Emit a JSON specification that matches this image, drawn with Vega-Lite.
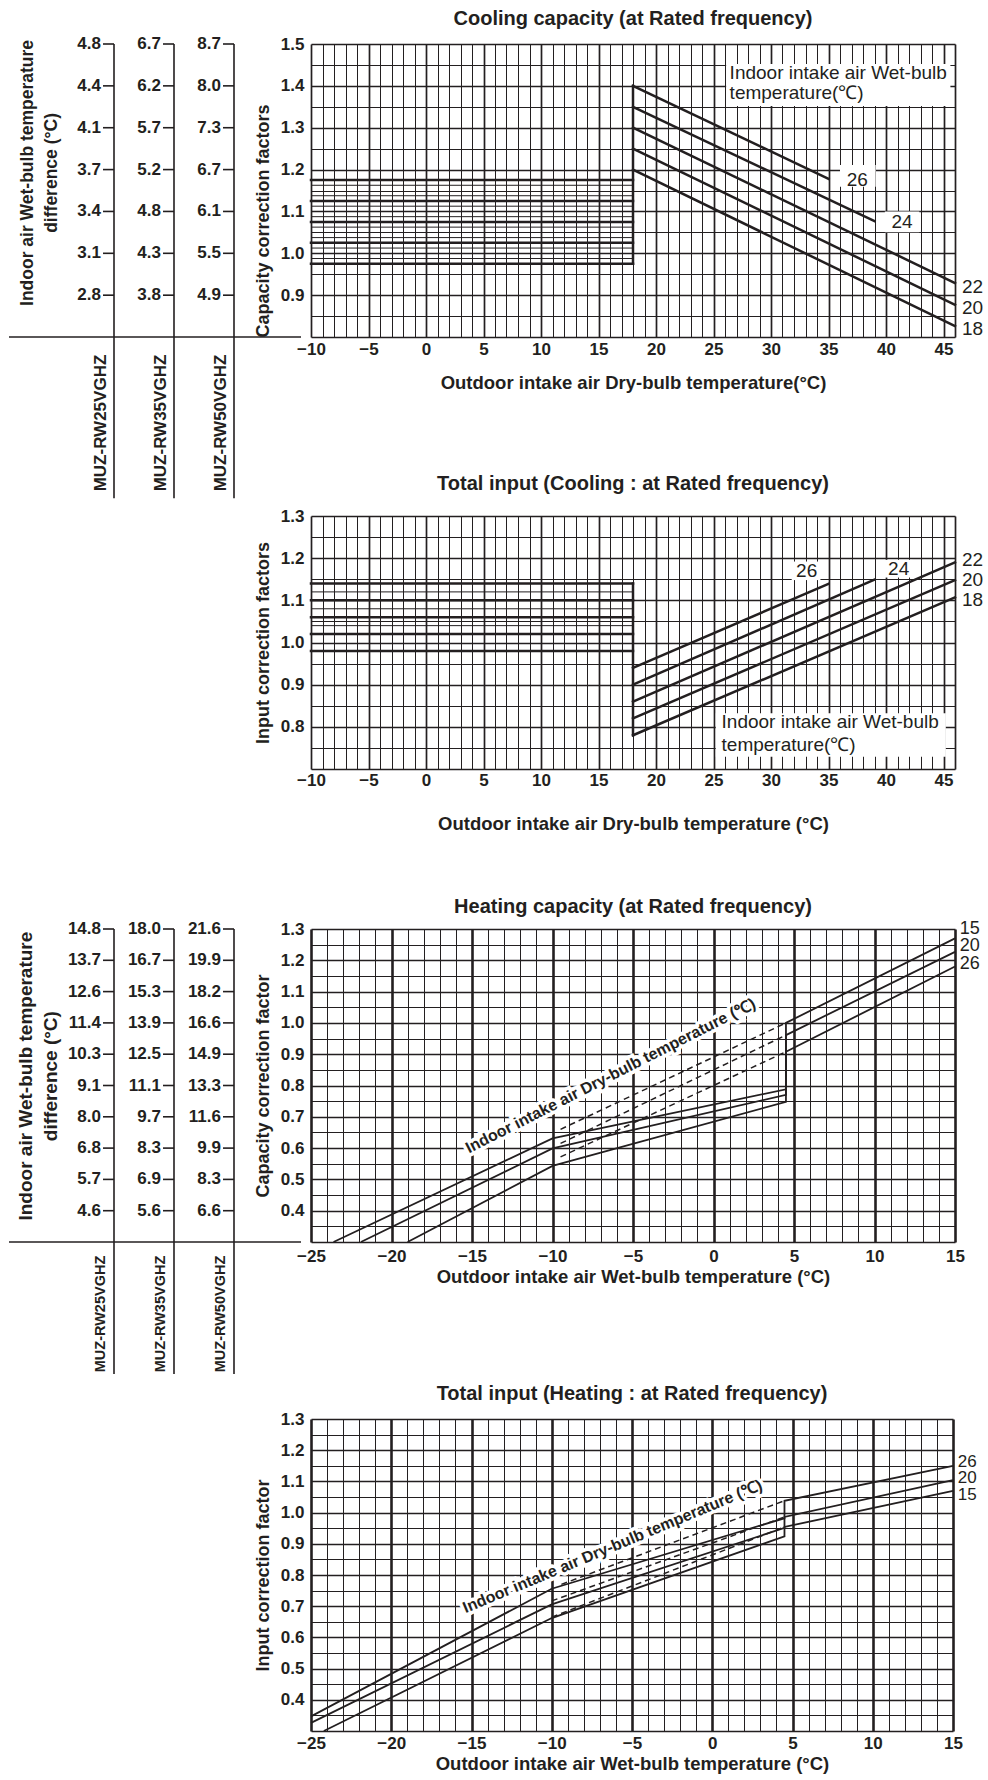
{
  "$schema": "https://vega.github.io/schema/vega-lite/v6.json",
  "background": "white",
  "padding": {"left": 8, "top": 9, "right": 5, "bottom": 2},
  "columns": 2,
  "align": "each",
  "bounds": "flush",
  "spacing": {"row": 160, "column": 10},
  "config": {
    "view": {"stroke": null},
    "font": "Liberation Sans",
    "title": {"font": "Liberation Sans", "fontSize": 20, "fontWeight": "bold", "color": "#231f20", "anchor": "middle"},
    "axis": {"labelFont": "Liberation Sans", "titleFont": "Liberation Sans", "labelColor": "#231f20", "titleColor": "#231f20", "labelFontWeight": "bold", "titleFontWeight": "bold", "labelFontSize": 17, "titleFontSize": 18.5, "ticks": false, "domain": false, "grid": true, "gridColor": "#231f20", "gridOpacity": 1, "labelOverlap": false, "labelFlush": false},
    "axisY": {"titleFontSize": 18},
    "text": {"font": "Liberation Sans", "color": "#231f20"}
  },
  "datasets": {
    "models": [{"c": 1, "t": "MUZ-RW25VGHZ"}, {"c": 2, "t": "MUZ-RW35VGHZ"}, {"c": 3, "t": "MUZ-RW50VGHZ"}],
    "lc": [
      {"c": 1, "y": 1.5, "t": "4.8"}, {"c": 1, "y": 1.4, "t": "4.4"}, {"c": 1, "y": 1.3, "t": "4.1"}, {"c": 1, "y": 1.2, "t": "3.7"}, {"c": 1, "y": 1.1, "t": "3.4"}, {"c": 1, "y": 1.0, "t": "3.1"}, {"c": 1, "y": 0.9, "t": "2.8"},
      {"c": 2, "y": 1.5, "t": "6.7"}, {"c": 2, "y": 1.4, "t": "6.2"}, {"c": 2, "y": 1.3, "t": "5.7"}, {"c": 2, "y": 1.2, "t": "5.2"}, {"c": 2, "y": 1.1, "t": "4.8"}, {"c": 2, "y": 1.0, "t": "4.3"}, {"c": 2, "y": 0.9, "t": "3.8"},
      {"c": 3, "y": 1.5, "t": "8.7"}, {"c": 3, "y": 1.4, "t": "8.0"}, {"c": 3, "y": 1.3, "t": "7.3"}, {"c": 3, "y": 1.2, "t": "6.7"}, {"c": 3, "y": 1.1, "t": "6.1"}, {"c": 3, "y": 1.0, "t": "5.5"}, {"c": 3, "y": 0.9, "t": "4.9"}
    ],
    "lh": [
      {"c": 1, "y": 1.3, "t": "14.8"}, {"c": 1, "y": 1.2, "t": "13.7"}, {"c": 1, "y": 1.1, "t": "12.6"}, {"c": 1, "y": 1.0, "t": "11.4"}, {"c": 1, "y": 0.9, "t": "10.3"}, {"c": 1, "y": 0.8, "t": "9.1"}, {"c": 1, "y": 0.7, "t": "8.0"}, {"c": 1, "y": 0.6, "t": "6.8"}, {"c": 1, "y": 0.5, "t": "5.7"}, {"c": 1, "y": 0.4, "t": "4.6"},
      {"c": 2, "y": 1.3, "t": "18.0"}, {"c": 2, "y": 1.2, "t": "16.7"}, {"c": 2, "y": 1.1, "t": "15.3"}, {"c": 2, "y": 1.0, "t": "13.9"}, {"c": 2, "y": 0.9, "t": "12.5"}, {"c": 2, "y": 0.8, "t": "11.1"}, {"c": 2, "y": 0.7, "t": "9.7"}, {"c": 2, "y": 0.6, "t": "8.3"}, {"c": 2, "y": 0.5, "t": "6.9"}, {"c": 2, "y": 0.4, "t": "5.6"},
      {"c": 3, "y": 1.3, "t": "21.6"}, {"c": 3, "y": 1.2, "t": "19.9"}, {"c": 3, "y": 1.1, "t": "18.2"}, {"c": 3, "y": 1.0, "t": "16.6"}, {"c": 3, "y": 0.9, "t": "14.9"}, {"c": 3, "y": 0.8, "t": "13.3"}, {"c": 3, "y": 0.7, "t": "11.6"}, {"c": 3, "y": 0.6, "t": "9.9"}, {"c": 3, "y": 0.5, "t": "8.3"}, {"c": 3, "y": 0.4, "t": "6.6"}
    ]
  },
  "concat": [
    {
      "width": 292, "height": 312,
      "layer": [
        {"data": {"name": "models"}, "mark": {"type": "rule", "color": "#231f20", "strokeWidth": 1.6},
         "encoding": {"x": {"field": "c", "type": "quantitative", "scale": {"domain": [-0.75, 4.1167], "nice": false, "zero": false}, "axis": null},
                      "y": {"datum": 1.5, "type": "quantitative", "scale": {"domain": [0.7547, 1.5], "nice": false, "zero": false}, "axis": null},
                      "y2": {"datum": 0.415}}},
        {"data": {"values": [{}]}, "mark": {"type": "rule", "color": "#231f20", "strokeWidth": 1.6},
         "encoding": {"x": {"datum": -0.75, "type": "quantitative", "scale": {"domain": [-0.75, 4.1167], "nice": false, "zero": false}, "axis": null},
                      "x2": {"datum": 4.1167},
                      "y": {"datum": 0.8, "type": "quantitative", "scale": {"domain": [0.7547, 1.5], "nice": false, "zero": false}, "axis": null}}},
        {"data": {"name": "lc"}, "mark": {"type": "rule", "color": "#231f20", "strokeWidth": 1.6, "xOffset": -11},
         "encoding": {"x": {"field": "c", "type": "quantitative", "scale": {"domain": [-0.75, 4.1167], "nice": false, "zero": false}, "axis": null},
                      "x2": {"field": "c"},
                      "y": {"field": "y", "type": "quantitative", "scale": {"domain": [0.7547, 1.5], "nice": false, "zero": false}, "axis": null}}},
        {"data": {"name": "lc"}, "mark": {"type": "text", "align": "right", "xOffset": -13, "fontSize": 17, "fontWeight": "bold"},
         "encoding": {"x": {"field": "c", "type": "quantitative", "scale": {"domain": [-0.75, 4.1167], "nice": false, "zero": false}, "axis": null},
                      "y": {"field": "y", "type": "quantitative", "scale": {"domain": [0.7547, 1.5], "nice": false, "zero": false}, "axis": null},
                      "text": {"field": "t"}}},
        {"data": {"name": "models"}, "mark": {"type": "text", "angle": 270, "xOffset": -13, "fontSize": 17, "fontWeight": "bold"},
         "encoding": {"x": {"field": "c", "type": "quantitative", "scale": {"domain": [-0.75, 4.1167], "nice": false, "zero": false}, "axis": null},
                      "y": {"datum": 0.5946, "type": "quantitative", "scale": {"domain": [0.7547, 1.5], "nice": false, "zero": false}, "axis": null},
                      "text": {"field": "t"}}},
        {"data": {"values": [{}]}, "mark": {"type": "text", "angle": 270, "fontSize": 17.5, "fontWeight": "bold", "lineHeight": 24, "text": ["Indoor air Wet-bulb temperature", "difference (°C)"]},
         "encoding": {"x": {"datum": -0.434, "type": "quantitative", "scale": {"domain": [-0.75, 4.1167], "nice": false, "zero": false}, "axis": null},
                      "y": {"datum": 1.192, "type": "quantitative", "scale": {"domain": [0.7547, 1.5], "nice": false, "zero": false}, "axis": null}}}
      ]
    },
    {
      "width": 644, "height": 293,
      "title": {"text": "Cooling capacity (at Rated frequency)", "offset": 6},
      "encoding": {
        "x": {"field": "x", "type": "quantitative", "scale": {"domain": [-10, 46], "nice": false, "zero": false},
              "axis": {"values": [-10,-9,-8,-7,-6,-5,-4,-3,-2,-1,0,1,2,3,4,5,6,7,8,9,10,11,12,13,14,15,16,17,18,19,20,21,22,23,24,25,26,27,28,29,30,31,32,33,34,35,36,37,38,39,40,41,42,43,44,45,46],
                       "labelExpr": "datum.value % 5 === 0 ? datum.label : ''",
                       "gridWidth": {"condition": {"test": "datum.value % 5 === 0 || datum.value === 46", "value": 1.7}, "value": 1},
                       "labelPadding": 4, "title": "Outdoor intake air Dry-bulb temperature(°C)", "titlePadding": 16}},
        "y": {"field": "y", "type": "quantitative", "scale": {"domain": [0.8, 1.5], "nice": false, "zero": false},
              "axis": {"values": [0.8,0.85,0.9,0.95,1.0,1.05,1.1,1.15,1.2,1.25,1.3,1.35,1.4,1.45,1.5], "format": ".1f",
                       "labelExpr": "abs(datum.value*10-round(datum.value*10))<0.01 && datum.value>0.81 ? datum.label : ''",
                       "gridWidth": {"condition": {"test": "abs(datum.value*10-round(datum.value*10))<0.01", "value": 1.6}, "value": 1},
                       "labelPadding": 7, "title": "Capacity correction factors", "titlePadding": 8, "titleAnchor": "start"}}
      },
      "layer": [
        {"data": {"values": [{"x": 26.1, "x2": 45.6, "y": 1.352, "y2": 1.452}, {"x": 36.0, "x2": 39.1, "y": 1.159, "y2": 1.211}, {"x": 39.9, "x2": 42.9, "y": 1.05, "y2": 1.1}]},
         "mark": {"type": "rect", "fill": "white"}, "encoding": {"x2": {"field": "x2"}, "y2": {"field": "y2"}}},
        {"data": {"values": [{"x": -10, "x2": 18, "y": 0.9875}, {"x": -10, "x2": 18, "y": 1.0125}, {"x": -10, "x2": 18, "y": 1.0375}, {"x": -10, "x2": 18, "y": 1.0625}, {"x": -10, "x2": 18, "y": 1.0875}, {"x": -10, "x2": 18, "y": 1.1125}, {"x": -10, "x2": 18, "y": 1.1375}, {"x": -10, "x2": 18, "y": 1.1625}]},
         "mark": {"type": "rule", "color": "#231f20", "strokeWidth": 1}, "encoding": {"x2": {"field": "x2"}}},
        {"data": {"values": [
          {"s": "h1", "i": 0, "x": -10, "y": 1.175}, {"s": "h1", "i": 1, "x": 18, "y": 1.175},
          {"s": "h2", "i": 0, "x": -10, "y": 1.125}, {"s": "h2", "i": 1, "x": 18, "y": 1.125},
          {"s": "h3", "i": 0, "x": -10, "y": 1.075}, {"s": "h3", "i": 1, "x": 18, "y": 1.075},
          {"s": "h4", "i": 0, "x": -10, "y": 1.025}, {"s": "h4", "i": 1, "x": 18, "y": 1.025},
          {"s": "h5", "i": 0, "x": -10, "y": 0.975}, {"s": "h5", "i": 1, "x": 18, "y": 0.975},
          {"s": "v", "i": 0, "x": 18, "y": 0.975}, {"s": "v", "i": 1, "x": 18, "y": 1.4},
          {"s": "26", "i": 0, "x": 18, "y": 1.4}, {"s": "26", "i": 1, "x": 35, "y": 1.178},
          {"s": "24", "i": 0, "x": 18, "y": 1.35}, {"s": "24", "i": 1, "x": 39, "y": 1.077},
          {"s": "22", "i": 0, "x": 18, "y": 1.3}, {"s": "22", "i": 1, "x": 46, "y": 0.929},
          {"s": "20", "i": 0, "x": 18, "y": 1.25}, {"s": "20", "i": 1, "x": 46, "y": 0.877},
          {"s": "18", "i": 0, "x": 18, "y": 1.2}, {"s": "18", "i": 1, "x": 46, "y": 0.826}]},
         "mark": {"type": "line", "color": "#231f20", "strokeWidth": 2.5, "strokeCap": "square"},
         "encoding": {"detail": {"field": "s"}, "order": {"field": "i"}}},
        {"data": {"values": [{"x": 26.4, "y": 1.43, "t": "Indoor intake air Wet-bulb"}, {"x": 26.4, "y": 1.382, "t": "temperature(℃)"}, {"x": 46.6, "y": 0.92, "t": "22"}, {"x": 46.6, "y": 0.87, "t": "20"}, {"x": 46.6, "y": 0.82, "t": "18"}]},
         "mark": {"type": "text", "align": "left", "fontSize": 19}, "encoding": {"text": {"field": "t"}}},
        {"data": {"values": [{"x": 37.5, "y": 1.176, "t": "26"}, {"x": 41.4, "y": 1.074, "t": "24"}]},
         "mark": {"type": "text", "align": "center", "fontSize": 19}, "encoding": {"text": {"field": "t"}}}
      ]
    },
    {"width": 292, "height": 10, "data": {"values": [{}]}, "mark": {"type": "text", "text": ""}},
    {
      "width": 644, "height": 253,
      "title": {"text": "Total input (Cooling : at Rated frequency)", "offset": 13},
      "encoding": {
        "x": {"field": "x", "type": "quantitative", "scale": {"domain": [-10, 46], "nice": false, "zero": false},
              "axis": {"values": [-10,-9,-8,-7,-6,-5,-4,-3,-2,-1,0,1,2,3,4,5,6,7,8,9,10,11,12,13,14,15,16,17,18,19,20,21,22,23,24,25,26,27,28,29,30,31,32,33,34,35,36,37,38,39,40,41,42,43,44,45,46],
                       "labelExpr": "datum.value % 5 === 0 ? datum.label : ''",
                       "gridWidth": {"condition": {"test": "datum.value % 5 === 0 || datum.value === 46", "value": 1.7}, "value": 1},
                       "labelPadding": 3, "title": "Outdoor intake air Dry-bulb temperature (°C)", "titlePadding": 26}},
        "y": {"field": "y", "type": "quantitative", "scale": {"domain": [0.7, 1.3], "nice": false, "zero": false},
              "axis": {"values": [0.7,0.75,0.8,0.85,0.9,0.95,1.0,1.05,1.1,1.15,1.2,1.25,1.3], "format": ".1f",
                       "labelExpr": "abs(datum.value*10-round(datum.value*10))<0.01 && datum.value>0.71 ? datum.label : ''",
                       "gridWidth": {"condition": {"test": "abs(datum.value*10-round(datum.value*10))<0.01", "value": 1.6}, "value": 1},
                       "labelPadding": 7, "title": "Input correction factors", "titlePadding": 8}}
      },
      "layer": [
        {"data": {"values": [{"x": 25.2, "x2": 45.2, "y": 0.729, "y2": 0.832}, {"x": 31.8, "x2": 34.3, "y": 1.148, "y2": 1.192}, {"x": 39.8, "x2": 42.3, "y": 1.154, "y2": 1.196}]},
         "mark": {"type": "rect", "fill": "white"}, "encoding": {"x2": {"field": "x2"}, "y2": {"field": "y2"}}},
        {"data": {"values": [{"x": -10, "x2": 18, "y": 1.12}, {"x": -10, "x2": 18, "y": 1.08}, {"x": -10, "x2": 18, "y": 1.04}]},
         "mark": {"type": "rule", "color": "#231f20", "strokeWidth": 1}, "encoding": {"x2": {"field": "x2"}}},
        {"data": {"values": [
          {"s": "h1", "i": 0, "x": -10, "y": 1.14}, {"s": "h1", "i": 1, "x": 18, "y": 1.14},
          {"s": "h2", "i": 0, "x": -10, "y": 1.10}, {"s": "h2", "i": 1, "x": 18, "y": 1.10},
          {"s": "h3", "i": 0, "x": -10, "y": 1.06}, {"s": "h3", "i": 1, "x": 18, "y": 1.06},
          {"s": "h4", "i": 0, "x": -10, "y": 1.02}, {"s": "h4", "i": 1, "x": 18, "y": 1.02},
          {"s": "h5", "i": 0, "x": -10, "y": 0.98}, {"s": "h5", "i": 1, "x": 18, "y": 0.98},
          {"s": "v", "i": 0, "x": 18, "y": 0.78}, {"s": "v", "i": 1, "x": 18, "y": 1.14},
          {"s": "26", "i": 0, "x": 18, "y": 0.94}, {"s": "26", "i": 1, "x": 35, "y": 1.139},
          {"s": "24", "i": 0, "x": 18, "y": 0.90}, {"s": "24", "i": 1, "x": 39, "y": 1.149},
          {"s": "22", "i": 0, "x": 18, "y": 0.86}, {"s": "22", "i": 1, "x": 46, "y": 1.19},
          {"s": "20", "i": 0, "x": 18, "y": 0.82}, {"s": "20", "i": 1, "x": 46, "y": 1.148},
          {"s": "18", "i": 0, "x": 18, "y": 0.78}, {"s": "18", "i": 1, "x": 46, "y": 1.107}]},
         "mark": {"type": "line", "color": "#231f20", "strokeWidth": 2.5, "strokeCap": "square"},
         "encoding": {"detail": {"field": "s"}, "order": {"field": "i"}}},
        {"data": {"values": [{"x": 25.7, "y": 0.812, "t": "Indoor intake air Wet-bulb"}, {"x": 25.7, "y": 0.756, "t": "temperature(℃)"}, {"x": 46.6, "y": 1.195, "t": "22"}, {"x": 46.6, "y": 1.148, "t": "20"}, {"x": 46.6, "y": 1.10, "t": "18"}]},
         "mark": {"type": "text", "align": "left", "fontSize": 19}, "encoding": {"text": {"field": "t"}}},
        {"data": {"values": [{"x": 33.1, "y": 1.17, "t": "26"}, {"x": 41.1, "y": 1.175, "t": "24"}]},
         "mark": {"type": "text", "align": "center", "fontSize": 19}, "encoding": {"text": {"field": "t"}}}
      ]
    },
    {
      "width": 292, "height": 330,
      "layer": [
        {"data": {"name": "models"}, "mark": {"type": "rule", "color": "#231f20", "strokeWidth": 1.6},
         "encoding": {"x": {"field": "c", "type": "quantitative", "scale": {"domain": [-0.75, 4.1167], "nice": false, "zero": false}, "axis": null},
                      "y": {"datum": 1.3, "type": "quantitative", "scale": {"domain": [0.2457, 1.3], "nice": false, "zero": false}, "axis": null},
                      "y2": {"datum": -0.122}}},
        {"data": {"values": [{}]}, "mark": {"type": "rule", "color": "#231f20", "strokeWidth": 1.6},
         "encoding": {"x": {"datum": -0.75, "type": "quantitative", "scale": {"domain": [-0.75, 4.1167], "nice": false, "zero": false}, "axis": null},
                      "x2": {"datum": 4.1167},
                      "y": {"datum": 0.3, "type": "quantitative", "scale": {"domain": [0.2457, 1.3], "nice": false, "zero": false}, "axis": null}}},
        {"data": {"name": "lh"}, "mark": {"type": "rule", "color": "#231f20", "strokeWidth": 1.6, "xOffset": -11},
         "encoding": {"x": {"field": "c", "type": "quantitative", "scale": {"domain": [-0.75, 4.1167], "nice": false, "zero": false}, "axis": null},
                      "x2": {"field": "c"},
                      "y": {"field": "y", "type": "quantitative", "scale": {"domain": [0.2457, 1.3], "nice": false, "zero": false}, "axis": null}}},
        {"data": {"name": "lh"}, "mark": {"type": "text", "align": "right", "xOffset": -13, "fontSize": 17, "fontWeight": "bold"},
         "encoding": {"x": {"field": "c", "type": "quantitative", "scale": {"domain": [-0.75, 4.1167], "nice": false, "zero": false}, "axis": null},
                      "y": {"field": "y", "type": "quantitative", "scale": {"domain": [0.2457, 1.3], "nice": false, "zero": false}, "axis": null},
                      "text": {"field": "t"}}},
        {"data": {"name": "models"}, "mark": {"type": "text", "angle": 270, "xOffset": -13, "fontSize": 14.5, "fontWeight": "bold"},
         "encoding": {"x": {"field": "c", "type": "quantitative", "scale": {"domain": [-0.75, 4.1167], "nice": false, "zero": false}, "axis": null},
                      "y": {"datum": 0.07, "type": "quantitative", "scale": {"domain": [0.2457, 1.3], "nice": false, "zero": false}, "axis": null},
                      "text": {"field": "t"}}},
        {"data": {"values": [{}]}, "mark": {"type": "text", "angle": 270, "fontSize": 19, "fontWeight": "bold", "lineHeight": 25, "text": ["Indoor air Wet-bulb temperature", "difference (°C)"]},
         "encoding": {"x": {"datum": -0.46, "type": "quantitative", "scale": {"domain": [-0.75, 4.1167], "nice": false, "zero": false}, "axis": null},
                      "y": {"datum": 0.83, "type": "quantitative", "scale": {"domain": [0.2457, 1.3], "nice": false, "zero": false}, "axis": null}}}
      ]
    },
    {
      "width": 644, "height": 313,
      "title": {"text": "Heating capacity (at Rated frequency)", "offset": 3},
      "encoding": {
        "x": {"field": "x", "type": "quantitative", "scale": {"domain": [-25, 15], "nice": false, "zero": false},
              "axis": {"values": [-25,-24,-23,-22,-21,-20,-19,-18,-17,-16,-15,-14,-13,-12,-11,-10,-9,-8,-7,-6,-5,-4,-3,-2,-1,0,1,2,3,4,5,6,7,8,9,10,11,12,13,14,15],
                       "labelExpr": "datum.value % 5 === 0 ? datum.label : ''",
                       "gridWidth": {"condition": {"test": "datum.value % 5 === 0", "value": 2.6}, "value": 1},
                       "labelPadding": 6, "title": "Outdoor intake air Wet-bulb temperature (°C)", "titlePadding": 3}},
        "y": {"field": "y", "type": "quantitative", "scale": {"domain": [0.3, 1.3], "nice": false, "zero": false},
              "axis": {"values": [0.3,0.35,0.4,0.45,0.5,0.55,0.6,0.65,0.7,0.75,0.8,0.85,0.9,0.95,1.0,1.05,1.1,1.15,1.2,1.25,1.3], "format": ".1f",
                       "labelExpr": "abs(datum.value*10-round(datum.value*10))<0.01 && datum.value>0.31 ? datum.label : ''",
                       "gridWidth": {"condition": {"test": "abs(datum.value*10-round(datum.value*10))<0.01", "value": 1.6}, "value": 1},
                       "labelPadding": 7, "title": "Capacity correction factor", "titlePadding": 8}}
      },
      "layer": [
        {"data": {"values": [
          {"s": "15", "i": 0, "x": -23.6, "y": 0.3}, {"s": "15", "i": 1, "x": -10, "y": 0.631}, {"s": "15", "i": 2, "x": 4.5, "y": 0.788}, {"s": "15", "i": 3, "x": 4.5, "y": 1.0}, {"s": "15", "i": 4, "x": 15, "y": 1.27},
          {"s": "20", "i": 0, "x": -21.9, "y": 0.3}, {"s": "20", "i": 1, "x": -10, "y": 0.599}, {"s": "20", "i": 2, "x": 4.5, "y": 0.77}, {"s": "20", "i": 3, "x": 4.5, "y": 0.961}, {"s": "20", "i": 4, "x": 15, "y": 1.227},
          {"s": "26", "i": 0, "x": -19.0, "y": 0.3}, {"s": "26", "i": 1, "x": -10, "y": 0.543}, {"s": "26", "i": 2, "x": 4.5, "y": 0.748}, {"s": "26", "i": 3, "x": 4.5, "y": 0.908}, {"s": "26", "i": 4, "x": 15, "y": 1.18}]},
         "mark": {"type": "line", "color": "#231f20", "strokeWidth": 1.8},
         "encoding": {"detail": {"field": "s"}, "order": {"field": "i"}}},
        {"data": {"values": [
          {"s": "15", "i": 0, "x": -9.5, "y": 0.66}, {"s": "15", "i": 1, "x": 4.5, "y": 1.0},
          {"s": "20", "i": 0, "x": -9.5, "y": 0.615}, {"s": "20", "i": 1, "x": 4.5, "y": 0.961},
          {"s": "26", "i": 0, "x": -9.5, "y": 0.572}, {"s": "26", "i": 1, "x": 4.5, "y": 0.908}]},
         "mark": {"type": "line", "color": "#231f20", "strokeWidth": 1.5, "strokeDash": [6, 4]},
         "encoding": {"detail": {"field": "s"}, "order": {"field": "i"}}},
        {"data": {"values": [{"x": -6.39, "y": 0.831, "t": "Indoor intake air Dry-bulb temperature (℃)"}]},
         "mark": {"type": "text", "angle": 333, "fontSize": 16, "fontWeight": "bold", "color": "white", "stroke": "white", "strokeWidth": 7},
         "encoding": {"text": {"field": "t"}}},
        {"data": {"values": [{"x": -6.39, "y": 0.831, "t": "Indoor intake air Dry-bulb temperature (℃)"}]},
         "mark": {"type": "text", "angle": 333, "fontSize": 16, "fontWeight": "bold"},
         "encoding": {"text": {"field": "t"}}},
        {"data": {"values": [{"x": 15.3, "y": 1.3, "t": "15"}, {"x": 15.3, "y": 1.246, "t": "20"}, {"x": 15.3, "y": 1.188, "t": "26"}]},
         "mark": {"type": "text", "align": "left", "fontSize": 18}, "encoding": {"text": {"field": "t"}}}
      ]
    },
    {"width": 292, "height": 10, "data": {"values": [{}]}, "mark": {"type": "text", "text": ""}},
    {
      "width": 642, "height": 312,
      "title": {"text": "Total input (Heating : at Rated frequency)", "offset": 6},
      "encoding": {
        "x": {"field": "x", "type": "quantitative", "scale": {"domain": [-25, 15], "nice": false, "zero": false},
              "axis": {"values": [-25,-24,-23,-22,-21,-20,-19,-18,-17,-16,-15,-14,-13,-12,-11,-10,-9,-8,-7,-6,-5,-4,-3,-2,-1,0,1,2,3,4,5,6,7,8,9,10,11,12,13,14,15],
                       "labelExpr": "datum.value % 5 === 0 ? datum.label : ''",
                       "gridWidth": {"condition": {"test": "datum.value % 5 === 0", "value": 2.6}, "value": 1},
                       "labelPadding": 4, "title": "Outdoor intake air Wet-bulb temperature (°C)", "titlePadding": 3}},
        "y": {"field": "y", "type": "quantitative", "scale": {"domain": [0.3, 1.3], "nice": false, "zero": false},
              "axis": {"values": [0.3,0.35,0.4,0.45,0.5,0.55,0.6,0.65,0.7,0.75,0.8,0.85,0.9,0.95,1.0,1.05,1.1,1.15,1.2,1.25,1.3], "format": ".1f",
                       "labelExpr": "abs(datum.value*10-round(datum.value*10))<0.01 && datum.value>0.31 ? datum.label : ''",
                       "gridWidth": {"condition": {"test": "abs(datum.value*10-round(datum.value*10))<0.01", "value": 1.6}, "value": 1},
                       "labelPadding": 7, "title": "Input correction factor", "titlePadding": 8}}
      },
      "layer": [
        {"data": {"values": [
          {"s": "26", "i": 0, "x": -25, "y": 0.347}, {"s": "26", "i": 1, "x": -10, "y": 0.756}, {"s": "26", "i": 2, "x": 4.5, "y": 0.982}, {"s": "26", "i": 3, "x": 4.5, "y": 1.038}, {"s": "26", "i": 4, "x": 15, "y": 1.15},
          {"s": "20", "i": 0, "x": -25, "y": 0.326}, {"s": "20", "i": 1, "x": -10, "y": 0.706}, {"s": "20", "i": 2, "x": 4.5, "y": 0.951}, {"s": "20", "i": 3, "x": 4.5, "y": 0.986}, {"s": "20", "i": 4, "x": 15, "y": 1.104},
          {"s": "15", "i": 0, "x": -24.2, "y": 0.3}, {"s": "15", "i": 1, "x": -10, "y": 0.662}, {"s": "15", "i": 2, "x": 4.5, "y": 0.924}, {"s": "15", "i": 3, "x": 4.5, "y": 0.954}, {"s": "15", "i": 4, "x": 15, "y": 1.07}]},
         "mark": {"type": "line", "color": "#231f20", "strokeWidth": 1.8},
         "encoding": {"detail": {"field": "s"}, "order": {"field": "i"}}},
        {"data": {"values": [
          {"s": "26", "i": 0, "x": -9.4, "y": 0.77}, {"s": "26", "i": 1, "x": 4.5, "y": 1.038},
          {"s": "20", "i": 0, "x": -10, "y": 0.717}, {"s": "20", "i": 1, "x": 4.5, "y": 0.986},
          {"s": "15", "i": 0, "x": -10, "y": 0.665}, {"s": "15", "i": 1, "x": 4.5, "y": 0.954}]},
         "mark": {"type": "line", "color": "#231f20", "strokeWidth": 1.5, "strokeDash": [6, 4]},
         "encoding": {"detail": {"field": "s"}, "order": {"field": "i"}}},
        {"data": {"values": [{"x": -6.21, "y": 0.891, "t": "Indoor intake air Dry-bulb temperature (℃)"}]},
         "mark": {"type": "text", "angle": 337.4, "fontSize": 16, "fontWeight": "bold", "color": "white", "stroke": "white", "strokeWidth": 7},
         "encoding": {"text": {"field": "t"}}},
        {"data": {"values": [{"x": -6.21, "y": 0.891, "t": "Indoor intake air Dry-bulb temperature (℃)"}]},
         "mark": {"type": "text", "angle": 337.4, "fontSize": 16, "fontWeight": "bold"},
         "encoding": {"text": {"field": "t"}}},
        {"data": {"values": [{"x": 15.3, "y": 1.163, "t": "26"}, {"x": 15.3, "y": 1.11, "t": "20"}, {"x": 15.3, "y": 1.057, "t": "15"}]},
         "mark": {"type": "text", "align": "left", "fontSize": 17}, "encoding": {"text": {"field": "t"}}}
      ]
    }
  ]
}
